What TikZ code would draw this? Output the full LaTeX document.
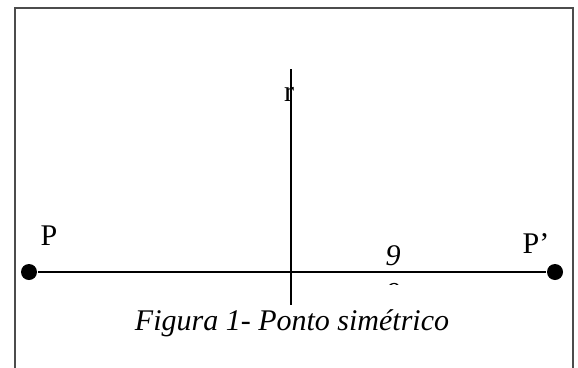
\documentclass[tikz,border=0pt]{standalone}
\usepackage{fontspec}
\setmainfont{Liberation Serif}
\tikzset{
  dot/.style={circle,fill=black,inner sep=0pt,minimum size=16pt},
  lab/.style={font=\fontsize{30}{36}\selectfont,inner sep=0pt,anchor=base},
}
\begin{document}
\begin{tikzpicture}[x=1pt,y=-1pt,line width=2pt]
\useasboundingbox (0,0) rectangle (578,367);
\draw[color=black!70] (15,368) -- (15,8) -- (573,8) -- (573,368);
\node [dot] (P) at (29,272) {};
\node [dot] (Q) at (555,272) {};
\draw (P) -- (Q);
\coordinate (rtop) at (291,69);
\coordinate (rbot) at (291,305);
\draw (rtop) -- (rbot);
\node [lab] (r) at (289,101) {r};
\node [lab] (pl) at (49,245) {P};
\node [lab] (ql) at (536,253) {P’};
\node [lab] (nine) at (393,265) {\itshape 9};
\begin{scope}
\clip (370,276) rectangle (420,284);
\node [lab] (zero) at (393,297) {\itshape o};
\end{scope}
\node [lab] (cap) at (292,330) {\itshape Figura 1- Ponto simétrico};
\end{tikzpicture}
\end{document}
